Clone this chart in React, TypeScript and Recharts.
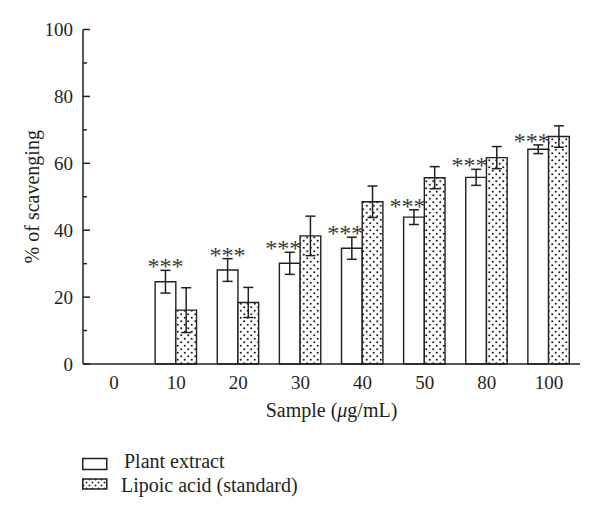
import React from "react";
import { Bar, BarChart, ErrorBar, LabelList, Legend, XAxis, YAxis } from "recharts";

const categories = ["0", "10", "20", "30", "40", "50", "80", "100"];
const plantExtract = [null, 24.6, 28.1, 30.1, 34.6, 43.9, 55.8, 64.2];
const plantExtractErr = [null, 3.4, 3.4, 3.3, 3.3, 2.2, 2.4, 1.3];
const lipoicAcid = [null, 16.1, 18.4, 38.3, 48.5, 55.7, 61.7, 68.0];
const lipoicAcidErr = [null, 6.7, 4.5, 5.9, 4.7, 3.3, 3.3, 3.2];
const significance = ["", "***", "***", "***", "***", "***", "***", "***"];
const yTicks = [0, 10, 20, 30, 40, 50, 60, 70, 80, 90, 100];
const seriesNames = ["Plant extract", "Lipoic acid (standard)"];

const INK = "#231f20";
const FONT = "Liberation Serif";
const TICK_GAP = 10;

const data = categories.map((sample, i) => ({
  sample,
  plant: plantExtract[i],
  plantErr: plantExtractErr[i],
  lipoic: lipoicAcid[i],
  lipoicErr: lipoicAcidErr[i],
}));

const txt = (size: number) => ({ fontFamily: FONT, fontSize: size });

function YTick(props: any) {
  const { x, y, payload } = props;
  const axisX = x + TICK_GAP;
  const major = payload.value % 20 === 0;
  return (
    <g>
      <line x1={axisX} x2={axisX + (major ? 7 : 4)} y1={y} y2={y} stroke={INK} strokeWidth={1.5} />
      {major && (
        <text x={x} y={y} dy="0.36em" textAnchor="end" fill={INK} style={txt(19)}>
          {payload.value}
        </text>
      )}
    </g>
  );
}

function XTick(props: any) {
  const { x, y, payload } = props;
  return (
    <text x={x} y={y} dy="0.71em" textAnchor="middle" fill={INK} style={txt(19)}>
      {payload.value}
    </text>
  );
}

function YLabel(props: any) {
  const vb = props.viewBox || {};
  const cx = 30.5;
  const cy = vb.y + vb.height / 2;
  return (
    <text x={cx} y={cy} transform={`rotate(-90, ${cx}, ${cy})`} textAnchor="middle" fill={INK} style={txt(20)}>
      % of scavenging
    </text>
  );
}

function XLabel(props: any) {
  const vb = props.viewBox || {};
  return (
    <text x={vb.x + vb.width / 2} y={vb.y + 53} textAnchor="middle" fill={INK} style={txt(20)}>
      Sample (<tspan fontStyle="italic">μ</tspan>g/mL)
    </text>
  );
}

function renderSig(props: any) {
  const idx = categories.indexOf(String(props.value));
  const vb = props.viewBox || props;
  const v = plantExtract[idx];
  if (idx < 0 || v == null || !significance[idx]) return null;
  const x = Number(vb.x);
  const y = Number(vb.y);
  const w = Number(vb.width);
  const h = Number(vb.height);
  const perUnit = h / v;
  const err = plantExtractErr[idx] ?? 0;
  const errTop = y - err * perUnit;
  const lipoicTop = (lipoicAcid[idx] ?? 0) + (lipoicAcidErr[idx] ?? 0);
  const shift = lipoicTop > v + err ? -6.5 : 0;
  return (
    <text x={x + w / 2 + shift} y={errTop + 4} textAnchor="middle" fill="#3a3a3a" style={txt(24)}>
      {significance[idx]}
    </text>
  );
}

function renderLegend() {
  return (
    <svg width={300} height={60} style={{ display: "block" }}>
      <defs>
        <pattern id="dotsLegend" width="6" height="6" patternUnits="userSpaceOnUse">
          <rect width="6" height="6" fill="#fff" />
          <circle cx="1.5" cy="1.5" r="0.95" fill={INK} />
          <circle cx="4.5" cy="4.5" r="0.95" fill={INK} />
        </pattern>
      </defs>
      {seriesNames.map((name, i) => (
        <g key={name}>
          <rect
            x={0.75}
            y={i === 0 ? 10.5 : 31}
            width={24}
            height={i === 0 ? 11 : 10}
            fill={i === 0 ? "#fff" : "url(#dotsLegend)"}
            stroke={INK}
            strokeWidth={1.5}
          />
          <text x={i === 0 ? 42 : 39} y={i === 0 ? 20.3 : 43.7} fill={INK} style={txt(20)}>
            {name}
          </text>
        </g>
      ))}
    </svg>
  );
}

export default function App() {
  return (
    <div style={{ width: 592, height: 509, position: "relative", background: "#fff" }}>
      <BarChart
        width={592}
        height={509}
        data={data}
        margin={{ top: 21.5, right: 20, left: 15, bottom: 113 }}
        barGap={0}
        barSize={20.7}
      >
        <defs>
          <pattern id="dots" width="7" height="7" patternUnits="userSpaceOnUse">
            <rect width="7" height="7" fill="#fff" />
            <circle cx="1.75" cy="1.75" r="1.05" fill={INK} />
            <circle cx="5.25" cy="5.25" r="1.05" fill={INK} />
          </pattern>
        </defs>
        <XAxis
          dataKey="sample"
          tickLine={false}
          tickSize={0}
          tickMargin={12}
          axisLine={{ stroke: INK, strokeWidth: 1.5 }}
          tick={<XTick />}
          interval={0}
          height={40}
          label={<XLabel />}
        />
        <YAxis
          domain={[0, 100]}
          ticks={yTicks}
          interval={0}
          tickSize={0}
          tickMargin={TICK_GAP}
          tickLine={false}
          tick={<YTick />}
          axisLine={{ stroke: INK, strokeWidth: 1.5 }}
          width={60}
          label={<YLabel />}
        />
        <Bar dataKey="plant" fill="#fff" stroke={INK} strokeWidth={1.4} isAnimationActive={false}>
          <ErrorBar dataKey="plantErr" width={5} stroke={INK} strokeWidth={1.5} />
          <LabelList dataKey="sample" content={renderSig} />
        </Bar>
        <Bar dataKey="lipoic" fill="url(#dots)" stroke={INK} strokeWidth={1.4} isAnimationActive={false}>
          <ErrorBar dataKey="lipoicErr" width={5} stroke={INK} strokeWidth={1.5} />
        </Bar>
        <Legend
          layout="horizontal"
          verticalAlign="middle"
          align="center"
          content={renderLegend}
          wrapperStyle={{ left: 74, top: 440, width: 300, height: 60 }}
        />
      </BarChart>
    </div>
  );
}
